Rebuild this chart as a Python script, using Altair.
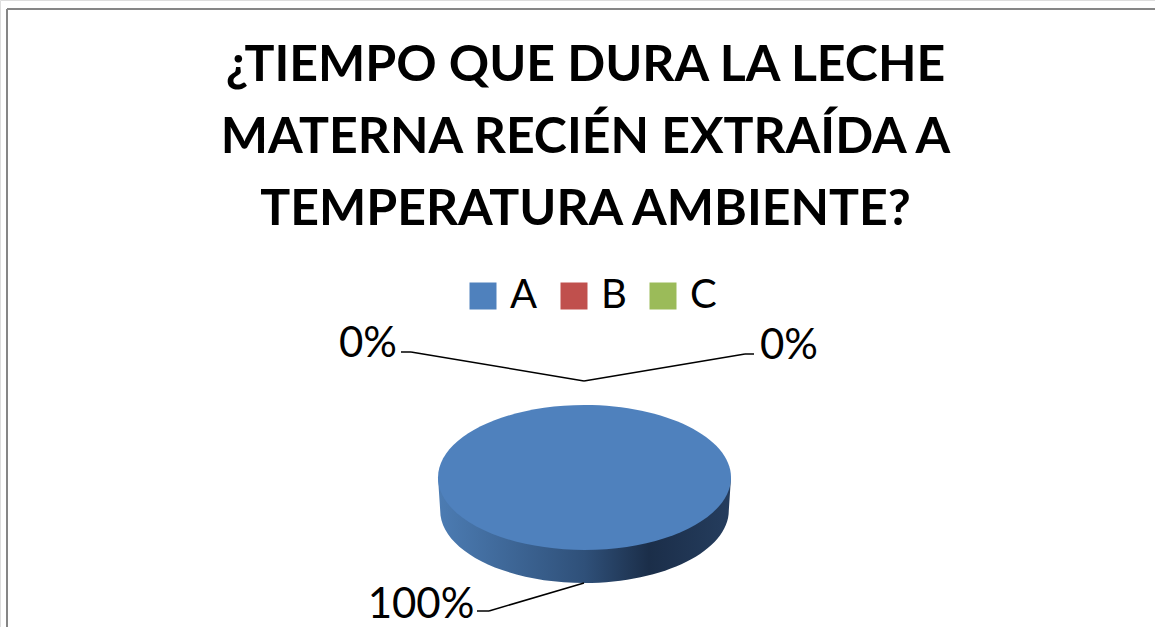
import altair as alt
import pandas as pd

# Survey answers
categories = ["A", "B", "C"]
values = [100, 0, 0]
colors = ["#4f81bd", "#c0504d", "#9bbb59"]
title_lines = [
    "¿TIEMPO QUE DURA LA LECHE",
    "MATERNA RECIÉN EXTRAÍDA A",
    "TEMPERATURA AMBIENTE?",
]

W, H = 1155, 627
FONT = "Lato"
CX, CY = 584.5, 477.5
PIE_SIZE = 293 ** 2

table = pd.DataFrame({"answer": categories, "value": values})
base = alt.Chart(table)
blank = alt.Chart(pd.DataFrame({"k": [0]}))

# Disc drawn as a flattened ellipse with a shaded rim underneath
TOP_FACE = "M-1,0 A1,0.495 0 1 1 1,0 A1,0.495 0 1 1 -1,0 Z"
RIM = "M-1,0 L-0.985,0.225 A0.985,0.495 0 0 0 0.985,0.225 L1,0 Z"
rim_fill = alt.LinearGradient(
    gradient="linear", x1=0, x2=1, y1=0, y2=0,
    stops=[
        alt.GradientStop(color="#4c7cb3", offset=0),
        alt.GradientStop(color="#2f5079", offset=0.5),
        alt.GradientStop(color="#1b2e49", offset=0.72),
        alt.GradientStop(color="#253d5e", offset=1),
    ],
)

size_scale = alt.Scale(domain=[0, 100], range=[0, PIE_SIZE])

rim = base.transform_filter("datum.value > 0").mark_point(
    shape=RIM, filled=True, fill=rim_fill, opacity=1, strokeWidth=0
).encode(
    x=alt.value(CX), y=alt.value(CY),
    size=alt.Size("value:Q", scale=size_scale, legend=None),
)

top = base.mark_point(shape=TOP_FACE, filled=True, opacity=1, strokeWidth=0).encode(
    x=alt.value(CX), y=alt.value(CY),
    size=alt.Size("value:Q", scale=size_scale, legend=None),
    color=alt.Color(
        "answer:N",
        scale=alt.Scale(domain=categories, range=colors),
        legend=alt.Legend(
            title=None, orient="none", legendX=463, legendY=276,
            direction="horizontal", columns=3, symbolType="square",
            symbolSize=729, symbolStrokeWidth=0, symbolOpacity=1,
            labelFont=FONT, labelFontSize=40, labelColor="#000000",
            labelOffset=7, columnPadding=16, labelLimit=100,
        ),
    ),
)

# Percentage labels and their leader lines
label_spots = {"A": (421, 605), "B": (368, 344), "C": (789, 346)}
labels = [
    base.transform_joinaggregate(total="sum(value)")
    .transform_calculate(share="datum.value / datum.total")
    .transform_filter(alt.datum.answer == name)
    .mark_text(font=FONT, fontSize=42, color="#000000", align="center", baseline="middle")
    .encode(x=alt.value(px), y=alt.value(py), text=alt.Text("share:Q", format=".0%"))
    for name, (px, py) in label_spots.items()
]

leader_segments = [
    (401, 352, 411, 352), (411, 352, 584, 381),
    (584, 381, 745, 354), (745, 354, 754, 354),
    (477, 611, 489, 611), (489, 611, 584, 583),
]
leaders = [
    blank.mark_rule(color="#000000", strokeWidth=1.5).encode(
        x=alt.value(a), y=alt.value(b), x2=alt.value(c), y2=alt.value(d)
    )
    for a, b, c, d in leader_segments
]

# Chart area outline along the top and left edges
frame = [
    blank.mark_rule(color="#868686", strokeWidth=2).encode(
        x=alt.value(7), x2=alt.value(W), y=alt.value(9)
    ),
    blank.mark_rule(color="#868686", strokeWidth=2).encode(
        x=alt.value(7), y=alt.value(9), y2=alt.value(H)
    ),
]

chart = alt.layer(*frame, rim, top, *leaders, *labels).properties(
    width=W,
    height=H,
    padding=0,
    autosize=alt.AutoSizeParams(type="none"),
    title=alt.Title(
        text=title_lines, font=FONT, fontSize=50, fontWeight="bold",
        color="#000000", anchor="middle", lineHeight=72, limit=1100,
        dx=8, dy=235, offset=0,
    ),
).configure_view(stroke=None).configure(background="#ffffff")

chart.save("out.html", embed_options={"renderer": "svg", "actions": False})
